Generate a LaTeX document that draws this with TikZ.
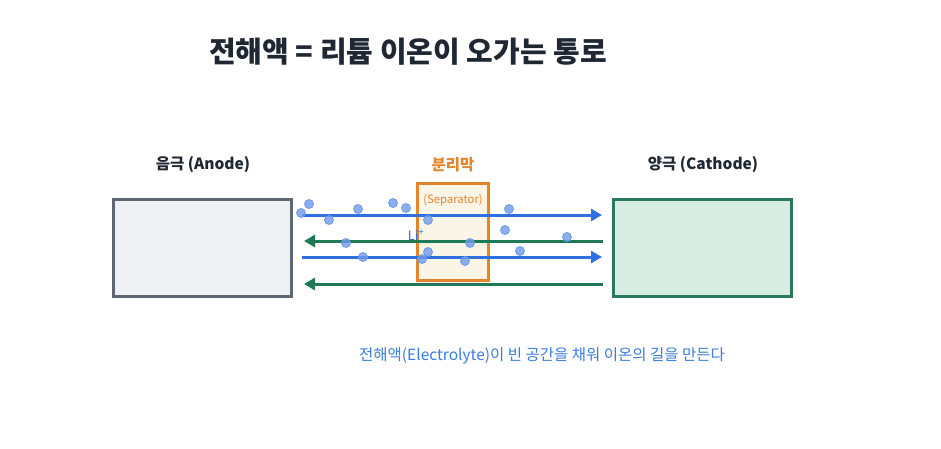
\documentclass[tikz,border=0pt]{standalone}
\usepackage{fontspec}
\setmainfont{Noto Sans CJK KR}
\usetikzlibrary{arrows.meta}
\definecolor{titlec}{HTML}{1F2733}
\definecolor{anodefill}{HTML}{EEF1F4}
\definecolor{anodedraw}{HTML}{5F6773}
\definecolor{cathfill}{HTML}{D8EEE5}
\definecolor{cathdraw}{HTML}{2A7A5A}
\definecolor{sepfill}{HTML}{FAF5E6}
\definecolor{sepdraw}{HTML}{E5852A}
\definecolor{bluearr}{HTML}{2F6FDE}
\definecolor{greenarr}{HTML}{1E7A55}
\definecolor{dotc}{HTML}{6F9AEA}
\definecolor{notec}{HTML}{3B7DDD}
\tikzset{
  electrode/.style={line width=2.2pt, minimum width=178pt, minimum height=97pt, inner sep=0pt},
  sepbox/.style={draw=sepdraw, fill=sepfill, line width=2.2pt, minimum width=71pt, minimum height=97pt, inner sep=0pt},
  lbl/.style={font=\bfseries\fontsize{15.5pt}{18pt}\selectfont, text=titlec},
  flowR/.style={draw=bluearr, line width=3pt, -{Triangle[length=11pt,width=12pt]}},
  flowL/.style={draw=greenarr, line width=3pt, -{Triangle[length=11pt,width=12pt]}},
  ion/.style={circle, fill=dotc, fill opacity=0.8, draw=dotc, line width=0.8pt, minimum size=9pt, inner sep=0pt}
}
\begin{document}
\begin{tikzpicture}[x=1pt,y=1pt]
\useasboundingbox (0,0) rectangle (941,-448);
\node[font=\bfseries\fontsize{29pt}{34pt}\selectfont, text=titlec] (title) at (408,-52) {전해액 = 리튬 이온이 오가는 통로};
\node[electrode, draw=anodedraw, fill=anodefill] (anode) at (202.5,-248) {};
\node[electrode, draw=cathdraw, fill=cathfill] (cathode) at (702.5,-248) {};
\node[sepbox] (sep) at (453,-232) {};
\node[lbl] (anlbl) at (203,-165) {음극 (Anode)};
\node[lbl] (calbl) at (703,-165) {양극 (Cathode)};
\node[lbl, text=sepdraw] (seplbl) at (453,-165) {분리막};
\node[font=\fontsize{11.3pt}{13pt}\selectfont, text=sepdraw] (sepsub) at (453,-200) {(Separator)};
\coordinate (r1s) at (302,-215); \coordinate (r1e) at (602,-215);
\coordinate (l1s) at (603,-241); \coordinate (l1e) at (304,-241);
\coordinate (r2s) at (302,-257); \coordinate (r2e) at (602,-257);
\coordinate (l2s) at (603,-284); \coordinate (l2e) at (304,-284);
\draw[flowR] (r1s) -- (r1e);
\draw[flowL] (l1s) -- (l1e);
\draw[flowR] (r2s) -- (r2e);
\draw[flowL] (l2s) -- (l2e);
\foreach \i/\x/\y in {1/301/213, 2/309/204, 3/329/220, 4/358/209, 5/393/203, 6/406/208, 7/428/220, 8/509/209, 9/505/230, 10/567/237, 11/346/243, 12/470/243, 13/428/252, 14/422/259, 15/363/257, 16/465/261, 17/520/251}
  \node[ion] (ion\i) at (\x,-\y) {};
\node[font=\fontsize{13pt}{15pt}\selectfont, text=bluearr, inner sep=0pt] (li) at (416,-235) {Li\textsuperscript{+}};
\node[font=\fontsize{15.5pt}{18pt}\selectfont, text=notec] (note) at (542,-356) {전해액(Electrolyte)이 빈 공간을 채워 이온의 길을 만든다};
\end{tikzpicture}
\end{document}
